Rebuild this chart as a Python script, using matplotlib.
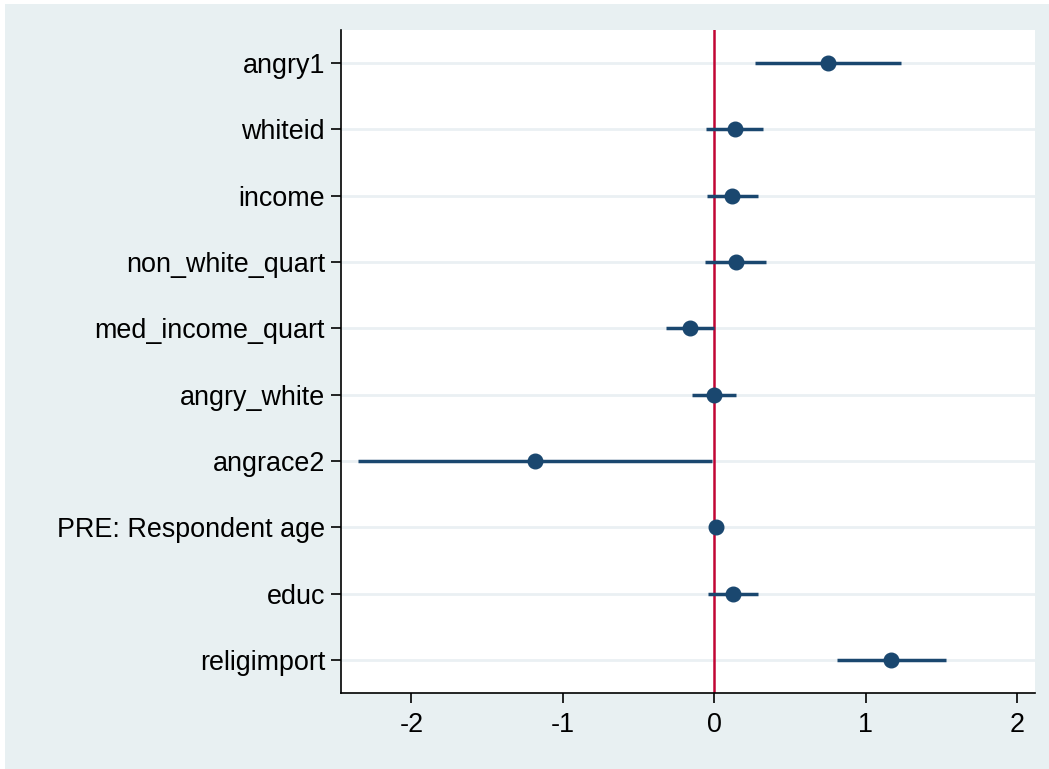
import numpy as np
import matplotlib
matplotlib.use('Agg')
import matplotlib.pyplot as plt
from matplotlib.patches import Rectangle

labels = ['angry1', 'whiteid', 'income', 'non_white_quart', 'med_income_quart',
          'angry_white', 'angrace2', 'PRE: Respondent age', 'educ', 'religimport']
coef = [0.75, 0.134, 0.116, 0.14, -0.163, -0.003, -1.186, 0.01, 0.125, 1.166]
ci_lo = [0.27, -0.055, -0.05, -0.06, -0.32, -0.146, -2.355, 0.0, -0.04, 0.807]
ci_hi = [1.23, 0.32, 0.285, 0.34, -0.003, 0.14, -0.018, 0.02, 0.29, 1.527]
xticks = [-2, -1, 0, 1, 2]

plt.rcParams['font.family'] = ['Liberation Sans', 'DejaVu Sans']

fig = plt.figure(figsize=(10.49, 7.69), dpi=100)
fig.patch.set_facecolor('white')
# graph region (Stata style light blue-gray)
fig.patches.append(Rectangle((5/1049, 0.5/769), 1 - 5/1049, 1 - 4.5/769,
                             transform=fig.transFigure, facecolor='#E8F0F2',
                             edgecolor='none', zorder=-10))

ax = fig.add_axes([341/1049, 1 - 693/769, (1035 - 341)/1049, (693 - 30)/769])
ax.set_facecolor('white')

y = np.arange(len(labels))
for yi in y:
    ax.axhline(yi, color='#EAF0F3', lw=2, zorder=1)
ax.axvline(0, color='#C10534', lw=1.8, zorder=2)
ax.hlines(y, ci_lo, ci_hi, color='#1A476F', lw=2.5, zorder=3)
ax.plot(coef, y, 'o', color='#1A476F', markersize=10.5, zorder=4)

ax.set_ylim(len(labels) - 0.5, -0.5)
ax.set_xlim(-2.465, 2.116)
ax.set_yticks(y)
ax.set_yticklabels(labels, fontsize=19.4)
ax.set_xticks(xticks)
ax.set_xticklabels([str(t) for t in xticks], fontsize=19.4)
ax.tick_params(axis='both', length=7.5, width=1.2, color='black')
ax.tick_params(axis='y', pad=4)
ax.tick_params(axis='x', pad=6)
for s in ['top', 'right']:
    ax.spines[s].set_visible(False)
ax.spines['left'].set_linewidth(1.2)
ax.spines['bottom'].set_linewidth(1.2)

plt.savefig('out.png', dpi=100)
